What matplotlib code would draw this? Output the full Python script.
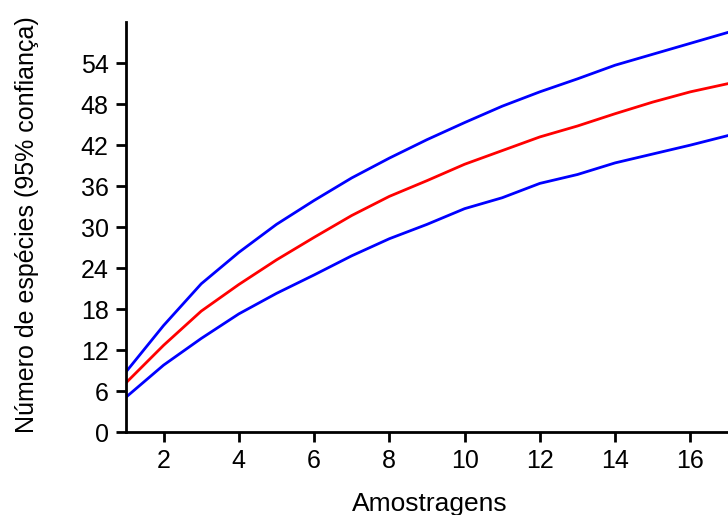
import matplotlib
matplotlib.use("Agg")
import matplotlib.pyplot as plt

plt.rcParams['font.family'] = ['Liberation Sans', 'DejaVu Sans']

amostras = list(range(1, 18))
upper = [8.8, 15.6, 21.7, 26.3, 30.4, 33.9, 37.2, 40.1, 42.8, 45.3, 47.7, 49.8, 51.7, 53.7, 55.3, 56.9, 58.5]
media = [7.2, 12.7, 17.7, 21.6, 25.2, 28.5, 31.7, 34.5, 36.8, 39.2, 41.2, 43.2, 44.8, 46.6, 48.3, 49.8, 51.0]
lower = [5.1, 9.8, 13.7, 17.3, 20.3, 23.0, 25.8, 28.3, 30.4, 32.7, 34.3, 36.4, 37.7, 39.4, 40.7, 42.0, 43.4]

xticks = [2, 4, 6, 8, 10, 12, 14, 16]
yticks = [0, 6, 12, 18, 24, 30, 36, 42, 48, 54]

fig = plt.figure(figsize=(7.28, 5.15), dpi=100)
ax = fig.add_axes([0.173, 0.161, 0.827, 0.796])
ax.plot(amostras, upper, color='#0000ff', lw=2)
ax.plot(amostras, media, color='#ff0000', lw=2)
ax.plot(amostras, lower, color='#0000ff', lw=2)

ax.set_xlim(1, 17)
ax.set_ylim(0, 60)
ax.set_xticks(xticks)
ax.set_yticks(yticks)
ax.spines['top'].set_visible(False)
ax.spines['right'].set_visible(False)
for s in ['left', 'bottom']:
    ax.spines[s].set_linewidth(2)
ax.tick_params(width=2, length=7.5, labelsize=18, direction='out', pad=5)
ax.set_xlabel('Amostragens', fontsize=19)
ax.set_ylabel('Número de espécies (95% confiança)', fontsize=18)
ax.xaxis.set_label_coords(0.505, -0.145)
ax.xaxis.label.set_va('top')
ax.yaxis.set_label_coords(-0.145, 0.505)

fig.savefig('out.png', dpi=100)
